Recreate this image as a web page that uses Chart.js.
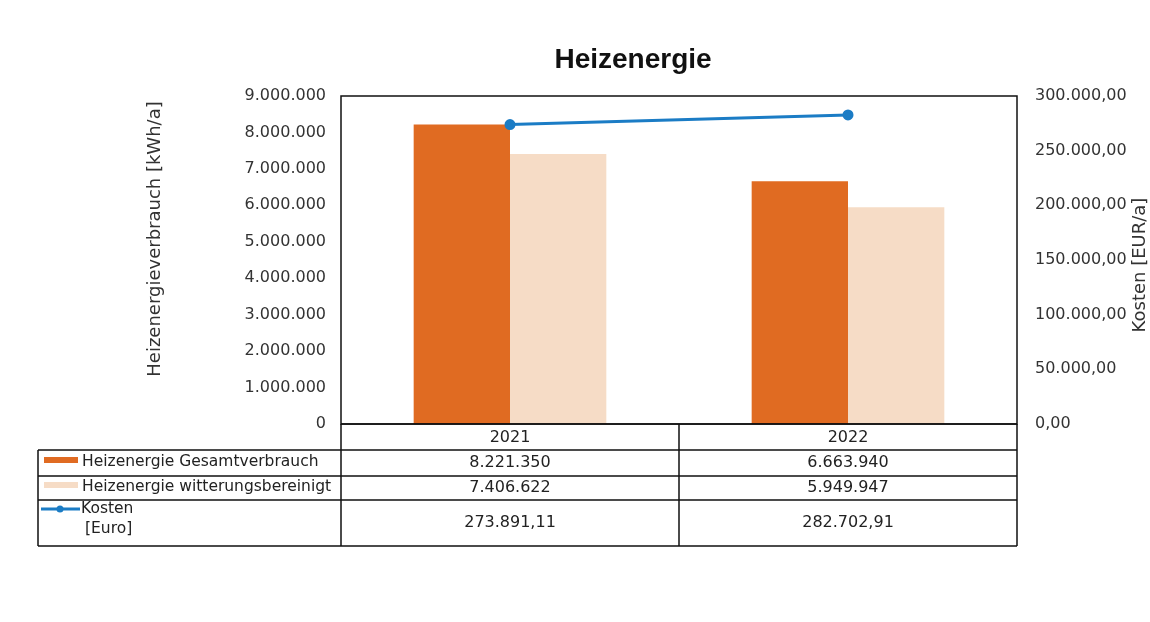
<!DOCTYPE html>
<html>
<head>
<meta charset="utf-8">
<script src="https://cdn.jsdelivr.net/npm/chart.js@4"></script>
<style>
  html, body { margin: 0; padding: 0; background: #fff; }
  #wrap { width: 1150px; height: 622px; }
</style>
</head>
<body>
<div id="wrap"><canvas id="myChart" width="1150" height="622"></canvas></div>
<script>
const years = ["2021", "2022"];
const gesamtverbrauch = [8221350, 6663940];
const witterungsbereinigt = [7406622, 5949947];
const kosten = [273891.11, 282702.91];
const seriesNames = ["Heizenergie Gesamtverbrauch", "Heizenergie witterungsbereinigt", "Kosten", "[Euro]"];

const orange = "#e06b22";
const peach = "#f6dcc6";
const blue = "#1b7cc5";
const font = "DejaVu Sans";

// german number format, e.g. 8.221.350 / 273.891,11
function de(n, dec) {
     const parts = n.toFixed(dec).split(".");
     const int = parts[0].replace(/\B(?=(\d{3})+(?!\d))/g, ".");
     return dec ? int + "," + parts[1] : int;
}

// title, axis titles, frame and the data table under the plot
const tablePlugin = {
     id: "table",
     afterDraw(chart) {
          const ctx = chart.ctx;
          const area = chart.chartArea;
          const x = chart.scales.x;
          ctx.save();

          ctx.fillStyle = "#111";
          ctx.font = "bold 28px 'Liberation Sans'";
          ctx.textAlign = "center";
          ctx.textBaseline = "middle";
          ctx.fillText("Heizenergie", 633, 60);

          // axis titles, both read bottom to top
          ctx.font = "18px '" + font + "'";
          ctx.fillStyle = "#333";
          ctx.save();
          ctx.translate(155, 239);
          ctx.rotate(-Math.PI / 2);
          ctx.fillText("Heizenergieverbrauch [kWh/a]", 0, 0);
          ctx.restore();
          ctx.save();
          ctx.translate(1140, 265);
          ctx.rotate(-Math.PI / 2);
          ctx.fillText("Kosten [EUR/a]", 0, 0);
          ctx.restore();

          ctx.strokeStyle = "#111";
          ctx.lineWidth = 1.5;
          ctx.strokeRect(area.left, area.top, area.right - area.left, area.bottom - area.top);

          const rows = [area.bottom, 450, 476, 500, 546];
          const tableLeft = 38;
          const mid = (x.getPixelForValue(0) + x.getPixelForValue(1)) / 2;
          ctx.beginPath();
          // horizontal lines
          ctx.moveTo(area.left, rows[0]); ctx.lineTo(area.right, rows[0]);
          for (let i = 1; i < rows.length; i++) {
               ctx.moveTo(tableLeft, rows[i]); ctx.lineTo(area.right, rows[i]);
          }
          // vertical lines
          ctx.moveTo(tableLeft, rows[1]); ctx.lineTo(tableLeft, rows[4]);
          ctx.moveTo(area.left, rows[0]); ctx.lineTo(area.left, rows[4]);
          ctx.moveTo(mid, rows[0]); ctx.lineTo(mid, rows[4]);
          ctx.moveTo(area.right, rows[0]); ctx.lineTo(area.right, rows[4]);
          ctx.stroke();

          ctx.font = "16px '" + font + "'";
          ctx.fillStyle = "#222";
          ctx.textAlign = "center";
          for (let i = 0; i < years.length; i++) {
               const cx = x.getPixelForValue(i);
               ctx.fillText(years[i], cx, (rows[0] + rows[1]) / 2 + 1);
               ctx.fillText(de(gesamtverbrauch[i], 0), cx, (rows[1] + rows[2]) / 2);
               ctx.fillText(de(witterungsbereinigt[i], 0), cx, (rows[2] + rows[3]) / 2);
               ctx.fillText(de(kosten[i], 2), cx, (rows[3] + rows[4]) / 2);
          }

          // legend keys
          ctx.fillStyle = orange;
          ctx.fillRect(44, 457, 34, 6);
          ctx.fillStyle = peach;
          ctx.fillRect(44, 482, 34, 6);
          ctx.strokeStyle = blue;
          ctx.lineWidth = 3;
          ctx.beginPath();
          ctx.moveTo(41, 509); ctx.lineTo(80, 509);
          ctx.stroke();
          ctx.fillStyle = blue;
          ctx.beginPath();
          ctx.arc(60, 509, 3.5, 0, Math.PI * 2);
          ctx.fill();

          ctx.font = "15.5px '" + font + "'";
          ctx.fillStyle = "#222";
          ctx.textAlign = "left";
          ctx.fillText(seriesNames[0], 82, 462);
          ctx.fillText(seriesNames[1], 82, 487);
          ctx.fillText(seriesNames[2], 81, 509);
          ctx.fillText(seriesNames[3], 85, 529);
          ctx.restore();
     }
};

const data = {
     labels: years,
     datasets: [
          {
               type: "line",
               label: "Kosten",
               data: kosten,
               yAxisID: "yR",
               borderColor: blue,
               backgroundColor: blue,
               borderWidth: 3,
               pointRadius: 4,
               order: 0
          },
          {
               label: seriesNames[0],
               data: gesamtverbrauch,
               yAxisID: "y",
               backgroundColor: orange,
               categoryPercentage: 0.57,
               barPercentage: 1.0,
               order: 1
          },
          {
               label: seriesNames[1],
               data: witterungsbereinigt,
               yAxisID: "y",
               backgroundColor: peach,
               categoryPercentage: 0.57,
               barPercentage: 1.0,
               order: 2
          }
     ]
};

const config = {
     type: "bar",
     data: data,
     plugins: [tablePlugin],
     options: {
          responsive: false,
          animation: false,
          layout: { padding: { left: 140, top: 96, right: 0, bottom: 198 } },
          plugins: {
               legend: { display: false },
               title: { display: false },
               tooltip: { enabled: false }
          },
          scales: {
               x: { display: false },
               y: {
                    position: "left",
                    min: 0,
                    max: 9000000,
                    grid: { display: false },
                    border: { display: false },
                    ticks: {
                         stepSize: 1000000,
                         padding: 7,
                         color: "#333",
                         font: { family: font, size: 16 },
                         callback: (v) => de(v, 0)
                    },
                    afterFit: (s) => { s.width = 201; }
               },
               yR: {
                    position: "right",
                    min: 0,
                    max: 300000,
                    grid: { display: false },
                    border: { display: false },
                    ticks: {
                         stepSize: 50000,
                         padding: 10,
                         color: "#333",
                         font: { family: font, size: 16 },
                         callback: (v) => de(v, 2)
                    },
                    afterFit: (s) => { s.width = 133; }
               }
          }
     }
};

const myChart = new Chart(document.getElementById("myChart"), config);
</script>
</body>
</html>
